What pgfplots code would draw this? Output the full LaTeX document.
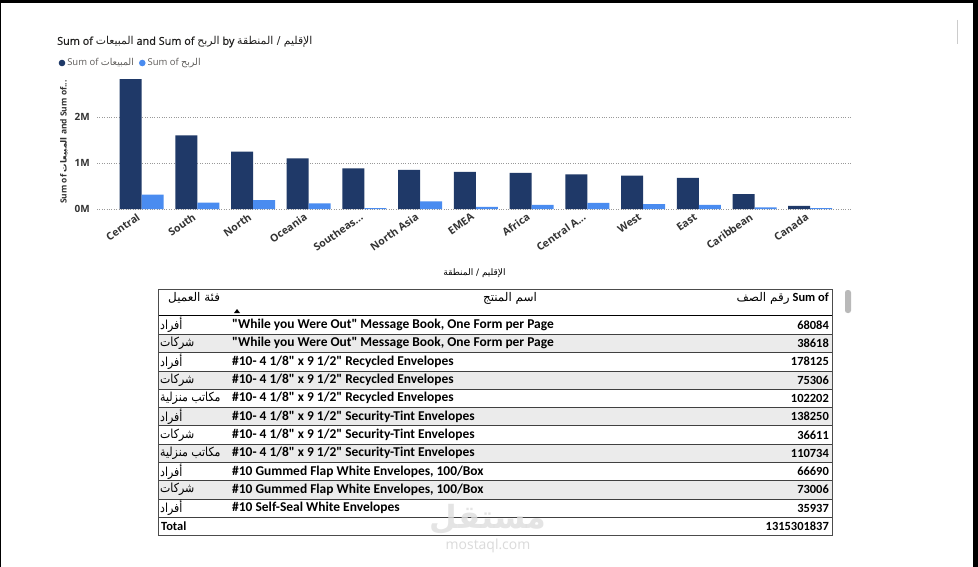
\documentclass[border=0pt]{standalone}
\usepackage{pgfplots}
\pgfplotsset{compat=1.18}
\usepackage{fontspec}
\setmainfont{Open Sans}
\newfontfamily\semib[FakeBold=0.8]{Open Sans}
\newfontfamily\tblfont{Carlito}
\newfontfamily\arabicfont[Script=Arabic]{DejaVu Sans}
\TeXXeTstate=1
\newcommand\ar[1]{{\arabicfont\beginR #1\endR}}
\definecolor{dk}{HTML}{1F3968}
\definecolor{lb}{HTML}{4A8CF0}
\definecolor{ttl}{HTML}{201F1E}
\definecolor{lgd}{HTML}{605E5C}
\definecolor{tk}{HTML}{333333}
\newcommand\trow[4]{%
  \node[anchor=west, inner sep=0, xscale=0.88, transform shape, font=\fontsize{12.5}{13}\selectfont] at (160,{-325-(#1-1)*18.3}) {{\arabicfont\beginR #2\endR}};
  \node[anchor=west, inner sep=0, font=\tblfont\bfseries\fontsize{13.5}{14}\selectfont] at (232,{-325-(#1-1)*18.3}) {#3};
  \node[anchor=east, inner sep=0, font=\tblfont\bfseries\fontsize{12.5}{13}\selectfont] at (829,{-325-(#1-1)*18.3}) {#4};
}
\begin{document}
\begin{tikzpicture}[x=1bp,y=1bp]
\path[use as bounding box] (0,0) rectangle (978,-567);
\fill[white] (0,0) rectangle (978,-567);
% frame of the screenshot
\fill[black] (0,0) rectangle (978,-3);
\fill[black] (973,0) rectangle (978,-567);
\fill[black] (0,0) rectangle (1,-567);
\draw[gray!40, line width=0.8bp] (957,-20) -- (957,-44);

\node[anchor=west, inner sep=0, font=\semib\fontsize{10.9}{12}\selectfont, text=ttl] at (57,-42) {Sum of {\arabicfont\beginR المبيعات\endR} and Sum of {\arabicfont\beginR الربح\endR} by {\arabicfont\beginR الإقليم / المنطقة\endR}};

\begin{axis}[
  at={(97bp,-209bp)}, anchor=south west, scale only axis,
  width=755bp, height=134bp,
  ybar=0pt, bar width=22bp,
  xmin=-0.8, xmax=12.75, ymin=0, ymax=2913000,
  axis line style={draw=none}, major tick length=0pt,
  ytick={0,1000000,2000000}, yticklabels={0M,1M,2M}, scaled y ticks=false,
  ymajorgrids, grid style={dotted, gray!80, line width=0.6bp},
  xtick={0,1,2,3,4,5,6,7,8,9,10,11,12},
  xticklabels={Central,South,North,Oceania,Southeas.{}.{}.,North Asia,EMEA,Africa,Central A.{}.{}.,West,East,Caribbean,Canada},
  xticklabel style={xshift=-5bp, yshift=-2bp, rotate=35, anchor=north east, font=\bfseries\fontsize{10.5}{11}\selectfont, text=tk, inner sep=1bp},
  yticklabel style={xshift=-5bp, font=\bfseries\fontsize{10}{11}\selectfont, text=tk, inner sep=2bp},
  ylabel={Sum of {\arabicfont\beginR المبيعات\endR} and Sum of.{}.{}.},
  ylabel style={at={(rel axis cs:-0.0437,0.5)}, anchor=center, font=\bfseries\fontsize{8.5}{9}\selectfont, text=tk},
  xlabel={{\arabicfont\beginR الإقليم / المنطقة\endR}},
  xlabel style={at={(rel axis cs:0.5,-0.478)}, anchor=center, font=\fontsize{9}{10}\selectfont, text=black},
  legend style={at={(rel axis cs:-0.051,1.0896)}, anchor=west, draw=none, fill=none, inner sep=0pt, font=\fontsize{9.5}{10}\selectfont, text=lgd, legend columns=-1, /tikz/every even column/.append style={column sep=3bp}},
  legend cell align=left,
]
\addplot[fill=dk, draw=none, legend image code/.code={\fill[dk] (3bp,0bp) circle (3.3bp);}] coordinates {
(0,2822303) (1,1600907) (2,1248166) (3,1100185) (4,884423) (5,848310) (6,806161)
(7,783776) (8,752827) (9,725458) (10,678781) (11,324281) (12,66928)};
\addplot[fill=lb, draw=none, legend image code/.code={\fill[lb] (3bp,0bp) circle (3.3bp);}] coordinates {
(0,311404) (1,140356) (2,194598) (3,120089) (4,17852) (5,165578) (6,43897)
(7,88872) (8,132480) (9,108418) (10,91523) (11,34572) (12,17817)};
\legend{Sum of \ar{المبيعات}, Sum of \ar{الربح}}
\end{axis}

% table
\foreach \i in {2,4,6,8,10} { \fill[black!8] (158,{-316-(\i-1)*18.3}) rectangle (832,{-316-\i*18.3}); }
\foreach \i in {1,...,11} { \draw[black!75, line width=0.7bp] (158,{-316-\i*18.3}) -- (832,{-316-\i*18.3}); }
\draw[black, line width=1.6bp] (158,-315.5) -- (832,-315.5);
\draw[black!70, line width=0.8bp] (158,-289) rectangle (832,-535.6);
\node[anchor=west, inner sep=0, font=\fontsize{12}{13}\selectfont] at (168,-298) {{\arabicfont\beginR فئة العميل\endR}};
\node[inner sep=0, font=\fontsize{12}{13}\selectfont] at (510,-298) {{\arabicfont\beginR اسم المنتج\endR}};
\node[anchor=east, inner sep=0, font=\fontsize{12}{13}\selectfont] at (829,-298) {{\arabicfont\beginR رقم الصف\endR} {\tblfont\bfseries\fontsize{12.5}{13}\selectfont Sum of}};
\fill[black] (234,-313) -- (240,-313) -- (237,-309) -- cycle;
\fill[gray!55, rounded corners=2.5bp] (845,-290) rectangle (851,-313);

\trow{1}{أفراد}{"While you Were Out" Message Book, One Form per Page}{68084}
\trow{2}{شركات}{"While you Were Out" Message Book, One Form per Page}{38618}
\trow{3}{أفراد}{\#10- 4 1/8" x 9 1/2" Recycled Envelopes}{178125}
\trow{4}{شركات}{\#10- 4 1/8" x 9 1/2" Recycled Envelopes}{75306}
\trow{5}{مكاتب منزلية}{\#10- 4 1/8" x 9 1/2" Recycled Envelopes}{102202}
\trow{6}{أفراد}{\#10- 4 1/8" x 9 1/2" Security-Tint Envelopes}{138250}
\trow{7}{شركات}{\#10- 4 1/8" x 9 1/2" Security-Tint Envelopes}{36611}
\trow{8}{مكاتب منزلية}{\#10- 4 1/8" x 9 1/2" Security-Tint Envelopes}{110734}
\trow{9}{أفراد}{\#10 Gummed Flap White Envelopes, 100/Box}{66690}
\trow{10}{شركات}{\#10 Gummed Flap White Envelopes, 100/Box}{73006}
\trow{11}{أفراد}{\#10 Self-Seal White Envelopes}{35937}
\node[anchor=west, inner sep=0, font=\tblfont\bfseries\fontsize{12.5}{13}\selectfont] at (161,-526) {Total};
\node[anchor=east, inner sep=0, font=\tblfont\bfseries\fontsize{12.5}{13}\selectfont] at (829,-526) {1315301837};

% watermark
\node[text=black!13, opacity=0.8, font=\arabicfont\bfseries\fontsize{32}{32}\selectfont] at (488,-519) {\beginR مستقل\endR};
\node[text=black!18, opacity=0.8, font=\fontsize{14}{14}\selectfont] at (488,-546) {mostaql.com};
\end{tikzpicture}
\end{document}
